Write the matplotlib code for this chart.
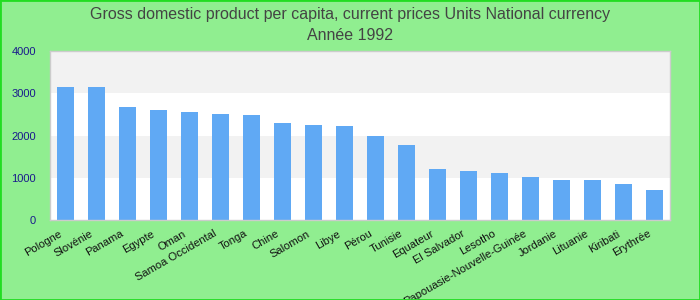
import matplotlib
matplotlib.use("Agg")
import matplotlib.pyplot as plt
import matplotlib.transforms as mtransforms
from matplotlib.patches import Rectangle

COUNTRIES = [
    "Pologne", "Slovénie", "Panama", "Egypte", "Oman", "Samoa Occidental",
    "Tonga", "Chine", "Salomon", "Libye", "Pérou", "Tunisie", "Equateur",
    "El Salvador", "Lesotho", "Papouasie-Nouvelle-Guinée", "Jordanie",
    "Lituanie", "Kiribati", "Erythrée",
]
GDP = [3159, 3159, 2678, 2607, 2559, 2512, 2488, 2299, 2251, 2227,
       1990, 1777, 1208, 1161, 1114, 1019, 948, 948, 853, 711]
YTICKS = [0, 1000, 2000, 3000, 4000]

plt.rcParams["font.family"] = ["Liberation Sans", "DejaVu Sans"]

fig = plt.figure(figsize=(7, 3), dpi=100, facecolor="#90ee90")
fig.patches.append(Rectangle((0, 0), 1, 1, transform=fig.transFigure,
                             fill=False, edgecolor="#22dd22", linewidth=2))
ax = fig.add_axes([50 / 700, 80 / 300, 620 / 700, 169 / 300])
ax.set_facecolor("white")

# alternating bands
for lo, hi in zip(YTICKS[:-1], YTICKS[1:]):
    if (lo // 1000) % 2 == 1:
        ax.axhspan(lo, hi, color="#f2f2f2", zorder=0, linewidth=0)

x = range(len(COUNTRIES))
ax.bar(x, GDP, width=0.55, color="#60a9f4", zorder=2)
ax.set_xlim(-0.5, len(COUNTRIES) - 0.5)
ax.set_ylim(0, 4000)
ax.set_yticks(YTICKS)
ax.set_yticklabels([str(v) for v in YTICKS], color="#1a1a8c", fontsize=8)
ax.set_xticks(list(x))
ax.set_xticklabels(COUNTRIES, rotation=30, ha="right", rotation_mode="anchor",
                   fontsize=8, color="#111111")
ax.tick_params(axis="both", length=0, pad=4)
ax.tick_params(axis="y", pad=10)
shift = mtransforms.ScaledTranslation(-7 / 100, -3 / 100, fig.dpi_scale_trans)
for lab in ax.get_xticklabels():
    lab.set_transform(lab.get_transform() + shift)
for spine in ax.spines.values():
    spine.set_color("#cccccc")
    spine.set_linewidth(1)

fig.text(0.5, 1 - 14 / 300, "Gross domestic product per capita, current prices Units National currency",
         ha="center", va="center", fontsize=11.5, color="#444444")
fig.text(0.5, 1 - 35 / 300, "Année 1992", ha="center", va="center",
         fontsize=11.5, color="#444444")

fig.savefig("out.png", dpi=100, facecolor=fig.get_facecolor())
